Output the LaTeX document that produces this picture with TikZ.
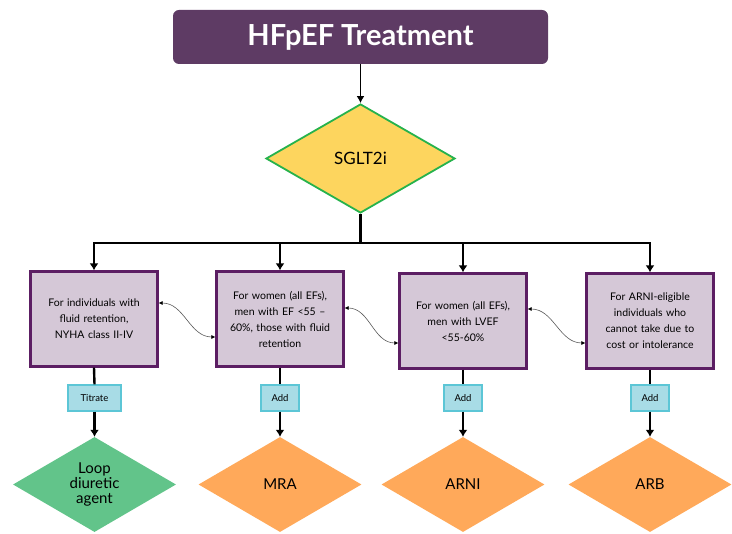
\documentclass[tikz,border=0pt]{standalone}
\usepackage{fontspec}
\setmainfont{Lato}
\usetikzlibrary{calc, shapes, arrows, arrows.meta}
\usepackage{xcolor}
\definecolor{titlepurple}{HTML}{5E3B64}
\definecolor{boxfill}{HTML}{D5C8D7}
\definecolor{boxborder}{HTML}{5C1E63}
\definecolor{labfill}{HTML}{A8DCE6}
\definecolor{labborder}{HTML}{5CC6D6}
\definecolor{sgltfill}{HTML}{FDD55E}
\definecolor{sgltborder}{HTML}{26B24C}
\definecolor{loopfill}{HTML}{62C48A}
\definecolor{drugfill}{HTML}{FFA95A}

\begin{document}
\begin{tikzpicture}[x=1pt,y=-1pt,
	titlebox/.style={fill=titlepurple, rounded corners=6pt, minimum width=375, minimum height=54, text=white, font=\myfonttitle},
	startdiamond/.style={diamond, draw=sgltborder, line width=1.8pt, fill=sgltfill, minimum width=189, minimum height=109, inner sep=0pt, font=\myfontsglt},
	casebox/.style={draw=boxborder, line width=2.2pt, fill=boxfill, minimum width=127, minimum height=95, text width=112, align=center, font=\myfontbox},
	actionlab/.style={draw=labborder, line width=1.2pt, fill=labfill, minimum height=26, minimum width=38, inner sep=3pt, font=\myfontlab},
	drugdiamond/.style={diamond, fill=drugfill, minimum width=163, minimum height=95, inner sep=0pt, align=center, font=\myfontdrug},
	thinarrow/.style={line width=1.6pt, -{Latex[length=7pt,width=8pt]}},
	thickline/.style={line width=2.4pt},
	thickarrow/.style={line width=2.4pt, -{Latex[length=7pt,width=9pt]}},
	swaparrow/.style={draw=black!65, line width=0.6pt, {Latex[length=4pt,width=4pt,black]}-{Latex[length=4pt,width=4pt,black]}}]
			\newcommand{\myfonttitle}{\fontsize{29}{32}\selectfont\bfseries}
			\newcommand{\myfontsglt}{\fontsize{17}{20}\selectfont}
			\newcommand{\myfontbox}{\fontsize{10.5}{16}\selectfont}
			\newcommand{\myfontlab}{\fontsize{9.5}{11}\selectfont}
			\newcommand{\myfontdrug}{\fontsize{15}{15}\selectfont}
			\useasboundingbox (0,0) rectangle (732,534);
			%Title
			\coordinate (ctitle) at (360.5,37);
			\node [titlebox] (title) at (ctitle) {HFpEF Treatment};
			%First step
			\coordinate (csglt) at (360.5,158.5);
			\node [startdiamond] (sglt) at (csglt) {SGLT2i};
			\draw [thinarrow] (title) -- (sglt);
			%Bus line below the first step
			\coordinate (bus) at (360.5,243);
			%Case boxes
			\coordinate (cbox1) at (94,319);
			\coordinate (cbox2) at (280,319);
			\coordinate (cbox3) at (463,321);
			\coordinate (cbox4) at (650,321);
			\node [casebox] (box1) at (cbox1) {For individuals with\\ fluid retention,\\ NYHA class II-IV};
			\node [casebox] (box2) at (cbox2) {For women (all EFs),\\ men with EF <55 --\\ 60\%, those with fluid\\ retention};
			\node [casebox] (box3) at (cbox3) {For women (all EFs),\\ men with LVEF\\ <55-60\%};
			\node [casebox] (box4) at (cbox4) {For ARNI-eligible\\ individuals who\\ cannot take due to\\ cost or intolerance};
			%Action labels
			\coordinate (clab1) at (94.5,398);
			\coordinate (clab2) at (280,398);
			\coordinate (clab3) at (463,398);
			\coordinate (clab4) at (650,398);
			\node [actionlab, minimum width=53] (lab1) at (clab1) {Titrate};
			\node [actionlab] (lab2) at (clab2) {Add};
			\node [actionlab] (lab3) at (clab3) {Add};
			\node [actionlab] (lab4) at (clab4) {Add};
			%Drugs
			\coordinate (cdrug1) at (94.5,484.5);
			\coordinate (cdrug2) at (280,484.5);
			\coordinate (cdrug3) at (463,484.5);
			\coordinate (cdrug4) at (650,484.5);
			\node [drugdiamond, fill=loopfill] (drug1) at (cdrug1) {Loop\\diuretic\\agent};
			\node [drugdiamond] (drug2) at (cdrug2) {MRA};
			\node [drugdiamond] (drug3) at (cdrug3) {ARNI};
			\node [drugdiamond] (drug4) at (cdrug4) {ARB};
			%Connectors
			\draw [thickline] (sglt.south) -- (bus);
			\foreach \i in {1,...,4} {
				\draw [thickarrow] (bus) -| (box\i.north);
				\draw [thickline] (box\i.south) -- (lab\i.north);
				\draw [thickarrow] (lab\i.south) -- (drug\i.north);
			}
			%Curved links between the boxes
			\draw [swaparrow] ([yshift=16]box1.east) to[out=0,in=180] ([yshift=-18]box2.west);
			\draw [swaparrow] ([yshift=11]box2.east) to[out=0,in=180] ([yshift=-22]box3.west);
			\draw [swaparrow] ([yshift=12]box3.east) to[out=0,in=180] ([yshift=-22]box4.west);
\end{tikzpicture}
\end{document}
